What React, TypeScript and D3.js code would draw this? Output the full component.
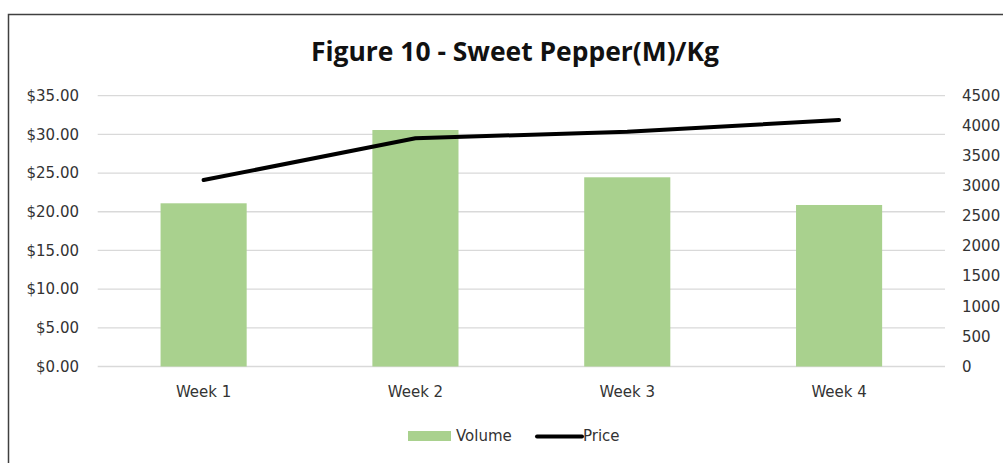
import React from "react";
import * as d3 from "d3";

const categories = ["Week 1", "Week 2", "Week 3", "Week 4"];
const volume = [2712, 3930, 3144, 2684];
const price = [24.1, 29.49, 30.35, 31.86];
const leftTicks = [0, 5, 10, 15, 20, 25, 30, 35];
const rightTicks = [0, 500, 1000, 1500, 2000, 2500, 3000, 3500, 4000, 4500];
const title = "Figure 10 - Sweet Pepper(M)/Kg";

const W = 1003;
const H = 463;
const plotLeft = 97.7;
const plotRight = 945;
const plotTop = 95.7;
const plotBottom = 366.5;
const FONT = "'DejaVu Sans', sans-serif";
const TEXT = "#333333";

export default function App() {
  const x = d3.scaleBand<string>().domain(categories).range([plotLeft, plotRight]).padding(0);
  const yL = d3.scaleLinear().domain([0, 35]).range([plotBottom, plotTop]);
  const yR = d3.scaleLinear().domain([0, 4500]).range([plotBottom, plotTop]);
  const bw = x.bandwidth();
  const barW = bw / 2.46;
  const line = d3
    .line<number>()
    .x((_, i) => (x(categories[i]) as number) + bw / 2)
    .y((d) => yL(d));

  return (
    <svg
      width={W}
      height={H}
      style={{ position: "absolute", left: 0, top: 0, background: "#fff" }}
    >
      <rect x={0} y={0} width={W} height={H} fill="#fff" />
      <rect x={8.5} y={14.5} width={1100} height={600} fill="none" stroke="#404040" strokeWidth={1.5} />
      <text
        x={515}
        y={61}
        textAnchor="middle"
        fontFamily="'Open Sans', sans-serif"
        fontWeight="bold"
        fontSize={26}
        fill="#111"
        textLength={408}
        lengthAdjust="spacingAndGlyphs"
      >
        {title}
      </text>
      {leftTicks.map((t) => (
        <line key={"g" + t} x1={plotLeft} x2={plotRight} y1={yL(t)} y2={yL(t)} stroke="#d9d9d9" strokeWidth={1.3} />
      ))}
      {categories.map((c, i) => (
        <rect
          key={c}
          x={(x(c) as number) + (bw - barW) / 2}
          y={yR(volume[i])}
          width={barW}
          height={plotBottom - yR(volume[i])}
          fill="#a9d18e"
        />
      ))}
      <path d={line(price) || ""} fill="none" stroke="#000" strokeWidth={4} strokeLinejoin="round" strokeLinecap="round" />
      {leftTicks.map((t) => (
        <text key={"l" + t} x={79} y={yL(t)} dy="0.35em" textAnchor="end" fontFamily={FONT} fontSize={15} fill={TEXT}>
          {"$" + d3.format(".2f")(t)}
        </text>
      ))}
      {rightTicks.map((t) => (
        <text key={"r" + t} x={962} y={yR(t)} dy="0.35em" textAnchor="start" fontFamily={FONT} fontSize={15} fill={TEXT}>
          {String(t)}
        </text>
      ))}
      {categories.map((c) => (
        <text key={"x" + c} x={(x(c) as number) + bw / 2} y={397} textAnchor="middle" fontFamily={FONT} fontSize={15} fill={TEXT}>
          {c}
        </text>
      ))}
      <rect x={408} y={431} width={43} height={10} fill="#a9d18e" />
      <text x={456} y={441} fontFamily={FONT} fontSize={15} fill={TEXT}>Volume</text>
      <line x1={537} x2={582} y1={436.5} y2={436.5} stroke="#000" strokeWidth={4} strokeLinecap="round" />
      <text x={583} y={441} fontFamily={FONT} fontSize={15} fill={TEXT}>Price</text>
    </svg>
  );
}
